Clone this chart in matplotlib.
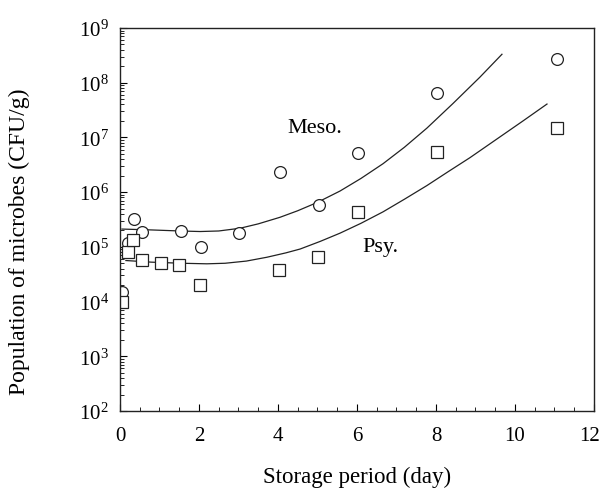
import matplotlib
matplotlib.use("Agg")
import matplotlib.pyplot as plt
import matplotlib.transforms as mtransforms
import numpy as np

# Data
meso_days = [0.05, 0.2, 0.35, 0.56, 1.55, 2.05, 3.01, 4.05, 5.04, 6.03, 8.03, 11.06]
meso_cfu = [1.5e4, 1.2e5, 3.2e5, 1.9e5, 1.95e5, 1.0e5, 1.8e5, 2.3e6, 5.9e5, 5.3e6, 6.6e7, 2.7e8]

psy_days = [0.05, 0.2, 0.33, 0.55, 1.03, 1.5, 2.03, 4.03, 5.01, 6.03, 8.03, 11.06]
psy_cfu = [1.0e4, 8.1e4, 1.35e5, 5.8e4, 5.1e4, 4.7e4, 2.0e4, 3.8e4, 6.5e4, 4.4e5, 5.4e6, 1.5e7]

# Fitted curves (log10 CFU/g)
meso_fit_days = [0.05, 0.76, 1.52, 2.03, 2.5, 3.04, 3.5, 4.05, 4.5, 4.99, 5.57,
                 6.1, 6.66, 7.2, 7.77, 8.43, 9.11, 9.67]
meso_fit_log = [5.325, 5.31, 5.29, 5.28, 5.29, 5.34, 5.42, 5.54, 5.66, 5.81, 6.02,
                6.25, 6.52, 6.82, 7.17, 7.62, 8.10, 8.52]

psy_fit_days = [0.15, 0.8, 1.57, 2.2, 2.66, 3.2, 3.72, 4.2, 4.56, 5.07, 5.57,
                6.1, 6.66, 7.2, 7.77, 8.3, 8.86, 9.54, 10.2, 10.81]
psy_fit_log = [4.75, 4.72, 4.70, 4.69, 4.70, 4.74, 4.81, 4.89, 4.96, 5.10, 5.25,
               5.43, 5.64, 5.87, 6.12, 6.37, 6.63, 6.97, 7.30, 7.61]

x_ticks = [0, 2, 4, 6, 8, 10, 12]
y_exps = [2, 3, 4, 5, 6, 7, 8, 9]

plt.rcParams['font.family'] = ['Liberation Serif', 'DejaVu Serif']
plt.rcParams['mathtext.fontset'] = 'custom'
plt.rcParams['mathtext.rm'] = 'Liberation Serif'
plt.rcParams['mathtext.it'] = 'Liberation Serif:italic'

fig = plt.figure(figsize=(6.02, 4.89), dpi=100)
ax = fig.add_axes([0.1993, 0.1575, 0.7874, 0.7832])

ax.plot(meso_fit_days, 10 ** np.array(meso_fit_log), color='#222222', lw=0.9)
ax.plot(psy_fit_days, 10 ** np.array(psy_fit_log), color='#222222', lw=0.9)

ax.plot(meso_days, meso_cfu, linestyle='none', marker='o', ms=8.5,
        mfc='white', mec='#222222', mew=0.9)
ax.plot(psy_days, psy_cfu, linestyle='none', marker='s', ms=8,
        mfc='white', mec='#222222', mew=0.9)

ax.set_yscale('log')
ax.set_xlim(0, 12)
ax.set_ylim(1e2, 1e9)

ax.set_xticks(x_ticks)
ax.set_xticklabels([str(t) for t in x_ticks])
ax.set_xticks(np.arange(0, 12.01, 0.5), minor=True)
ax.set_yticks([10.0 ** e for e in y_exps])
ax.set_yticklabels([r'10$^{%d}$' % e for e in y_exps])
ax.yaxis.set_minor_locator(matplotlib.ticker.LogLocator(base=10, subs=np.arange(2, 10)))
ax.yaxis.set_minor_formatter(matplotlib.ticker.NullFormatter())

ax.tick_params(axis='both', which='major', direction='in', length=5, width=0.8,
               labelsize=15, top=False, right=False, pad=8)
ax.tick_params(axis='x', which='major', pad=11)
ax.tick_params(axis='both', which='minor', direction='in', length=3, width=0.6,
               top=False, right=False)

for s in ax.spines.values():
    s.set_linewidth(1.0)
    s.set_color('#222222')

# keep the last x tick label inside the canvas, as in the reference
last_lbl = ax.xaxis.get_major_ticks()[-1].label1
last_lbl.set_transform(last_lbl.get_transform() +
                       mtransforms.ScaledTranslation(-4 / 100, 0, fig.dpi_scale_trans))

ax.set_xlabel('Storage period (day)', fontsize=16.5, labelpad=15)
ax.set_ylabel('Population of microbes (CFU/g)', fontsize=17)
ax.yaxis.set_label_coords(-0.19, 0.444)

ax.text(4.23, 10 ** 7.19, 'Meso.', fontsize=16, ha='left', va='center')
ax.text(6.13, 10 ** 5.0, 'Psy.', fontsize=16, ha='left', va='center')

fig.savefig('out.png', dpi=100)
